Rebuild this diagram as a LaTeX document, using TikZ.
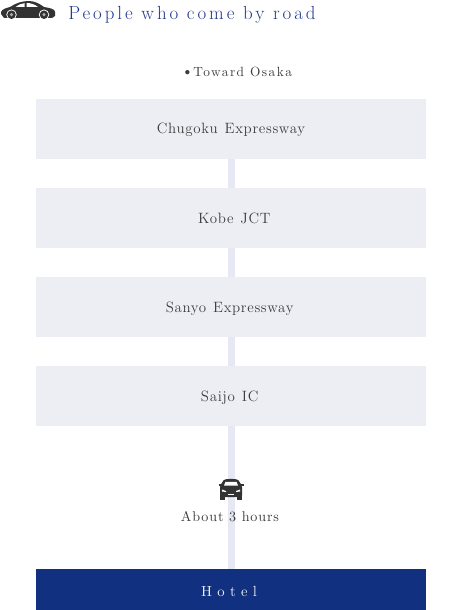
\documentclass[tikz,border=0pt]{standalone}
\usepackage{fontspec}
\setmainfont{Latin Modern Roman}
\newfontfamily\routefont[LetterSpace=4.5,WordSpace=1.25]{Latin Modern Roman}
\usepackage{tikz}
\definecolor{paleblue}{HTML}{ECEEF4}
\definecolor{linkblue}{HTML}{E6E9F3}
\definecolor{navy}{HTML}{11307F}
\definecolor{titleblue}{HTML}{21398A}
\definecolor{textgray}{HTML}{3C3C3C}
\definecolor{cardark}{HTML}{333333}
\tikzset{
	routebox/.style={fill=paleblue, minimum width=292.5pt, minimum height=45pt, inner sep=0pt, text height=8.2pt, text depth=0pt, text=textgray, font=\routefont\fontsize{11.2}{13}\selectfont},
	hotelbox/.style={routebox, fill=navy, minimum height=30.75pt, text=paleblue, text height=11pt, font=\fontsize{11}{13}\selectfont\addfontfeature{LetterSpace=36}},
	linkline/.style={linkblue, line width=5.25pt},
	note/.style={text=textgray, inner sep=0pt, font=\fontsize{10.6}{13}\selectfont\addfontfeature{LetterSpace=6}},
}
\begin{document}
\begin{tikzpicture}[x=0.75pt, y=-0.75pt]
	\useasboundingbox (0,0) rectangle (462,610);
	\node[inner sep=0pt, anchor=base west, text=titleblue, font=\fontsize{14.2}{17}\selectfont\addfontfeature{LetterSpace=15.5}] (title) at (68,20) {People who come by road};
	\node[note, anchor=base west] (osaka) at (181,76) {\large\textbullet\normalsize\addfontfeature{LetterSpace=11}Toward Osaka};
	\node[routebox] (chugoku) at (231,128.5) {Chugoku Expressway};
	\node[routebox] (kobe) at (231,218) {\hspace*{5pt}Kobe JCT};
	\node[routebox] (sanyo) at (231,307) {Sanyo Expressway\hspace*{2pt}};
	\node[routebox] (saijo) at (231,396) {Saijo IC\hspace*{2pt}};
	\node[hotelbox] (hotel) at (231,589.5) {Hotel\hspace*{3pt}};
	\draw[linkline] (chugoku) -- (kobe);
	\draw[linkline] (kobe) -- (sanyo);
	\draw[linkline] (sanyo) -- (saijo);
	\draw[linkline] (saijo) -- (hotel);
	\node[note, anchor=base] (hours) at (230,521.5) {About 3 hours};
	\fill[cardark] (1,14) .. controls (0.5,11) and (2,9) .. (10,7) .. controls (16,3) and (22,1) .. (29,1) .. controls (35,1) and (40,4) .. (44,7) .. controls (50,8) and (55,9) .. (55,12) -- (55,16) -- (52,18) -- (4,18) -- cycle;
	\fill[white] (15.5,7) .. controls (18,5) and (21,3.5) .. (24.5,3.2) -- (24.5,6.8) -- cycle;
	\fill[white] (26.5,3) .. controls (31,3) and (35,4.5) .. (38,7) -- (26.5,6.8) -- cycle;
	\foreach \wheelx in {11.5,44} {
		\fill[white] (\wheelx,14.7) circle (3.9pt);
		\fill[cardark] (\wheelx,14.7) circle (3.2pt);
		\fill[white!60!cardark] (\wheelx,14.7) circle (1.3pt);
	}
	\fill[cardark, rounded corners=1pt] (220,486) -- (223,481) .. controls (225,478.5) and (237,478.5) .. (239,481) -- (242,486) -- (242,497) -- (220,497) -- cycle;
	\fill[cardark] (218.5,484) rectangle (222,486);
	\fill[cardark] (240,484) rectangle (243.7,486);
	\fill[cardark] (220,496) rectangle (225,499.5);
	\fill[cardark] (237,496) rectangle (242,499.5);
	\fill[white] (224,485.5) -- (225.5,481.8) -- (236.5,481.8) -- (238,485.5) -- cycle;
	\fill[white] (222,489.5) -- (226,491) -- (226,492) -- (222,491.5) -- cycle;
	\fill[white] (240,489.5) -- (236,491) -- (236,492) -- (240,491.5) -- cycle;
	\fill[white] (228,494) rectangle (234,495);
\end{tikzpicture}
\end{document}
